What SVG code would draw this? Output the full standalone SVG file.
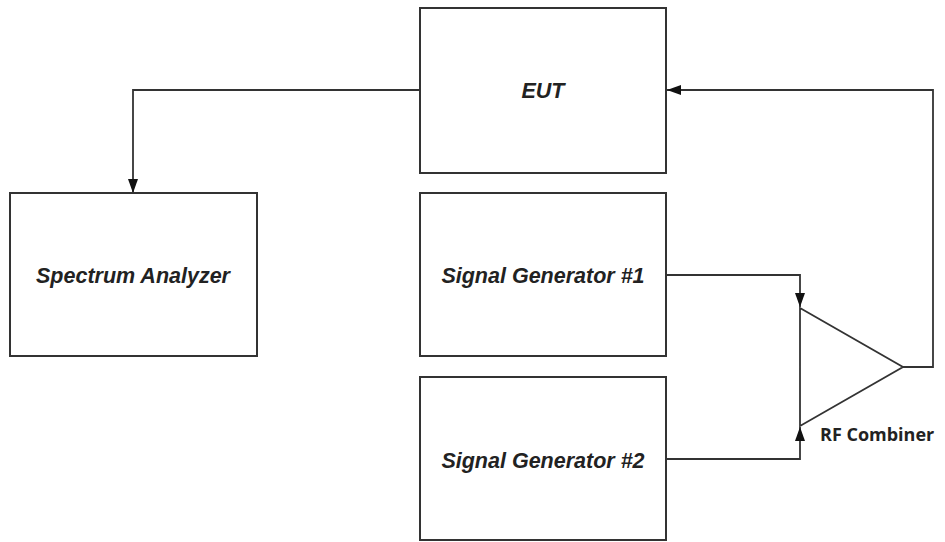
<svg xmlns="http://www.w3.org/2000/svg" width="945" height="542" viewBox="0 0 945 542">
<defs>
<style>
.box{fill:#fff;stroke:#333;stroke-width:2}
.lbl{font-family:"Liberation Sans",Arial,sans-serif;font-weight:bold;font-style:italic;font-size:21.5px;fill:#222;text-anchor:middle}
.wire{fill:none;stroke:#333;stroke-width:1.8}
.cap{font-family:"Open Sans","Liberation Sans",sans-serif;font-weight:bold;font-size:18px;fill:#222}
</style>
<marker id="ah" viewBox="0 0 14 10" refX="14" refY="5" markerWidth="14" markerHeight="10" markerUnits="userSpaceOnUse" orient="auto">
<path d="M0,0 L14,5 L0,10 Z" fill="#111"/>
</marker>
</defs>
<rect width="945" height="542" fill="#fff"/>
<g id="connectors">
<path class="wire" d="M420,90 H133 V193" marker-end="url(#ah)"/>
<path class="wire" d="M903,367 H933 V90 H667" marker-end="url(#ah)"/>
<path class="wire" d="M666,275 H800 V307" marker-end="url(#ah)"/>
<path class="wire" d="M666,459 H800 V427" marker-end="url(#ah)"/>
</g>
<g id="eut">
<rect class="box" x="420" y="8" width="246" height="165"/>
<text class="lbl" x="543" y="98">EUT</text>
</g>
<g id="spectrum-analyzer">
<rect class="box" x="10" y="193" width="247" height="163"/>
<text class="lbl" x="133" y="283">Spectrum Analyzer</text>
</g>
<g id="signal-generator-1">
<rect class="box" x="420" y="193" width="246" height="163"/>
<text class="lbl" x="543" y="283">Signal Generator #1</text>
</g>
<g id="signal-generator-2">
<rect class="box" x="420" y="377" width="246" height="163"/>
<text class="lbl" x="543" y="468">Signal Generator #2</text>
</g>
<g id="rf-combiner">
<path class="wire" d="M800,308 L903,367 L800,426 Z" fill="#fff"/>
<text class="cap" x="820" y="441">RF Combiner</text>
</g>
</svg>
